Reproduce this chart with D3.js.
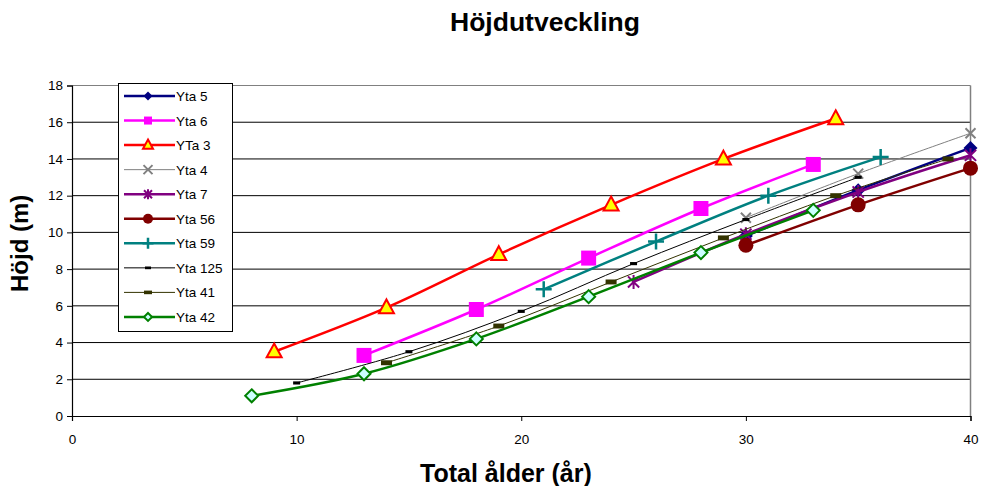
<!DOCTYPE html>
<html>
<head>
<meta charset="utf-8">
<script src="https://cdn.jsdelivr.net/npm/d3@7"></script>
<style>
  body { margin: 0; background: #fff; }
  text { font-family: "Liberation Sans", Arial, sans-serif; fill: #000; }
</style>
</head>
<body>
<svg id="chart" width="982" height="486"></svg>
<script>
// Height development per plot: total age (years) and height (m)
const seriesNames = ["Yta 5", "Yta 6", "YTa 3", "Yta 4", "Yta 7", "Yta 56", "Yta 59", "Yta 125", "Yta 41", "Yta 42"];

const age5 = [30, 35, 40];
const height5 = [9.8, 12.3, 14.6];
const age6 = [13, 18, 23, 28, 33];
const height6 = [3.3, 5.8, 8.6, 11.3, 13.7];
const age3 = [9, 14, 19, 24, 29, 34];
const height3 = [3.5, 5.9, 8.8, 11.5, 14.0, 16.2];
const age4 = [30, 35, 40];
const height4 = [10.8, 13.2, 15.4];
const age7 = [25, 30, 35, 40];
const height7 = [7.3, 9.9, 12.2, 14.2];
const age56 = [30, 35, 40];
const height56 = [9.3, 11.5, 13.5];
const age59 = [21, 26, 31, 36];
const height59 = [6.9, 9.5, 12.0, 14.1];
const age125 = [10, 15, 20, 25, 30, 35];
const height125 = [1.8, 3.5, 5.7, 8.3, 10.7, 13.0];
const age41 = [14, 19, 24, 29, 34, 39];
const height41 = [2.9, 4.9, 7.3, 9.7, 12.0, 14.0];
const age42 = [8, 13, 18, 23, 28, 33];
const height42 = [1.1, 2.3, 4.2, 6.5, 8.9, 11.2];

const xTicks = [0, 10, 20, 30, 40];
const yTicks = [0, 2, 4, 6, 8, 10, 12, 14, 16, 18];

const ages = [age5, age6, age3, age4, age7, age56, age59, age125, age41, age42];
const heights = [height5, height6, height3, height4, height7, height56, height59, height125, height41, height42];

// Marker shapes, s = half size
const shapes = {
  diamond: s => `M0,${-s}L${s},0L0,${s}L${-s},0Z`,
  square: s => `M${-s},${-s}h${2 * s}v${2 * s}h${-2 * s}Z`,
  triangle: s => `M0,${-s * 1.1}L${s},${s * 0.75}L${-s},${s * 0.75}Z`,
  cross: s => `M${-s},${-s}L${s},${s}M${s},${-s}L${-s},${s}`,
  star: s => `M${-s * 0.8},${-s * 0.8}L${s * 0.8},${s * 0.8}M${s * 0.8},${-s * 0.8}L${-s * 0.8},${s * 0.8}M0,${-s}V${s}`,
  circle: s => `M${-s},0A${s},${s} 0 1,0 ${s},0A${s},${s} 0 1,0 ${-s},0Z`,
  plus: s => `M${-s},0H${s}M0,${-s}V${s}`,
  dash: s => `M${-s},${-s * 0.45}h${2 * s}v${s * 0.9}h${-2 * s}Z`
};

const styles = [
  { color: "#000080", width: 2.5, shape: "diamond", size: 7, legendSize: 4.5, fill: "#000080", mstroke: 0 },
  { color: "#FF00FF", width: 2.5, shape: "square", size: 7.5, legendSize: 4, fill: "#FF00FF", mstroke: 0 },
  { color: "#FF0000", width: 2.5, shape: "triangle", size: 7.5, legendSize: 5, fill: "#FFFF00", mstroke: 2 },
  { color: "#808080", width: 1, shape: "cross", size: 5, legendSize: 4.5, fill: "none", mstroke: 2 },
  { color: "#800080", width: 2.5, shape: "star", size: 7, legendSize: 5, fill: "none", mstroke: 2 },
  { color: "#800000", width: 2.5, shape: "circle", size: 7.5, legendSize: 5, fill: "#800000", mstroke: 0 },
  { color: "#008080", width: 2.5, shape: "plus", size: 8, legendSize: 5.5, fill: "none", mstroke: 2.5 },
  { color: "#000000", width: 1, shape: "dash", size: 3.5, legendSize: 3, fill: "#000000", mstroke: 0 },
  { color: "#333300", width: 1, shape: "dash", size: 5.5, legendSize: 4, fill: "#333300", mstroke: 0 },
  { color: "#008000", width: 2.5, shape: "diamond", size: 6.5, legendSize: 4, fill: "#CCFFFF", mstroke: 2 }
];

const svg = d3.select("#chart");
const plotLeft = 72, plotRight = 970.5, plotTop = 85.5, plotBottom = 416;

const x = d3.scaleLinear().domain([0, 40]).range([plotLeft, plotRight]);
const y = d3.scaleLinear().domain([0, 18]).range([plotBottom, plotTop]);

// Grid lines
svg.append("g").selectAll("line").data(yTicks.filter(d => d > 0)).join("line")
  .attr("x1", plotLeft).attr("x2", plotRight)
  .attr("y1", d => y(d)).attr("y2", d => y(d))
  .attr("stroke", d => d === 18 ? "#808080" : "#000").attr("stroke-width", 1);

// Plot border on the right
svg.append("line").attr("x1", plotRight).attr("x2", plotRight).attr("y1", plotTop).attr("y2", plotBottom)
  .attr("stroke", "#808080").attr("stroke-width", 1.5);

// Axes
const yAxis = svg.append("g").attr("transform", `translate(${plotLeft},0)`)
  .call(d3.axisLeft(y).tickValues(yTicks).tickSize(5).tickPadding(4).tickFormat(d3.format("d")));
const xAxis = svg.append("g").attr("transform", `translate(0,${plotBottom})`)
  .call(d3.axisBottom(x).tickValues(xTicks).tickSize(5).tickPadding(13).tickFormat(d3.format("d")));
[xAxis, yAxis].forEach(g => {
  g.select(".domain").attr("stroke", "#000").attr("stroke-width", 1.2);
  g.selectAll(".tick line").attr("stroke", "#000");
  g.selectAll(".tick text").attr("font-size", 13.5).attr("font-family", '"Liberation Sans", Arial, sans-serif').attr("fill", "#000");
});

// Series lines and markers
const line = d3.line().curve(d3.curveCatmullRom.alpha(0.5)).x(d => x(d[0])).y(d => y(d[1]));

function drawMarker(g, st, s) {
  g.append("path").attr("d", shapes[st.shape](s))
    .attr("fill", st.fill)
    .attr("stroke", st.mstroke ? st.color : "none")
    .attr("stroke-width", st.mstroke)
    .attr("stroke-linejoin", "miter");
}

seriesNames.forEach((name, i) => {
  const st = styles[i];
  const pts = ages[i].map((a, j) => [a, heights[i][j]]);
  const g = svg.append("g");
  g.append("path").datum(pts).attr("d", line)
    .attr("fill", "none").attr("stroke", st.color).attr("stroke-width", st.width);
  pts.forEach(p => {
    const m = g.append("g").attr("transform", `translate(${x(p[0])},${y(p[1])})`);
    drawMarker(m, st, st.size);
  });
});

// Legend
const legend = svg.append("g");
legend.append("rect").attr("x", 118.5).attr("y", 83.5).attr("width", 114).attr("height", 248)
  .attr("fill", "#fff").attr("stroke", "#000").attr("stroke-width", 1);
seriesNames.forEach((name, i) => {
  const st = styles[i];
  const ry = 96 + i * 24.55;
  legend.append("line").attr("x1", 124).attr("x2", 175).attr("y1", ry).attr("y2", ry)
    .attr("stroke", st.color).attr("stroke-width", st.width);
  const m = legend.append("g").attr("transform", `translate(148,${ry})`);
  drawMarker(m, st, st.legendSize);
  legend.append("text").attr("x", 176).attr("y", ry + 5).attr("font-size", 13.5).text(name);
});

// Titles
svg.append("text").attr("x", 545).attr("y", 31).attr("text-anchor", "middle")
  .attr("font-size", 26.5).attr("font-weight", "bold").text("Höjdutveckling");
svg.append("text").attr("x", 420).attr("y", 482).attr("text-anchor", "start")
  .attr("font-size", 25).attr("font-weight", "bold").text("Total ålder (år)");
svg.append("text").attr("transform", "translate(28,292) rotate(-90)").attr("text-anchor", "start")
  .attr("font-size", 24).attr("font-weight", "bold").text("Höjd (m)");
</script>
</body>
</html>
